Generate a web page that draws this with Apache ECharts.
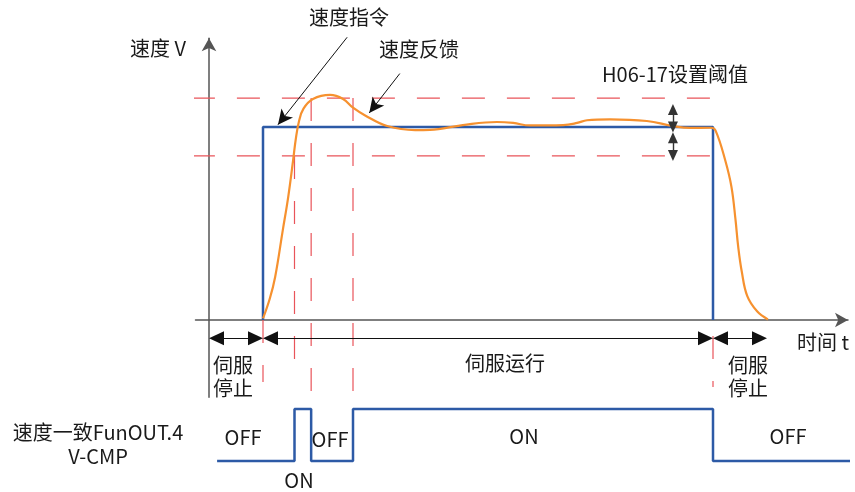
<!DOCTYPE html>
<html lang="zh-CN">
<head>
<meta charset="UTF-8">
<title>速度一致 V-CMP</title>
<script src="https://cdn.jsdelivr.net/npm/echarts@6/dist/echarts.min.js"></script>
<style>
  html, body { margin: 0; padding: 0; background: #fff; }
  #chart { width: 855px; height: 492px; }
</style>
</head>
<body>
<div id="chart"></div>
<script>
// ---- data (time in ms-like units, speed in rpm) ----
const commandOn = 12;
const commandOff = 112;
const commandSpeed = 1000;
const thresholdBand = [1150, 850];          // command +/- H06-17

const feedback = [
  [12, 8], [13.5, 110], [14.7, 223], [16.4, 466], [17.6, 637], [18.7, 829],
  [19.3, 940], [20, 1030], [21, 1095], [23.1, 1145], [26.9, 1166],
  [29.8, 1145], [32, 1100], [34.7, 1060], [39.6, 1005], [45.8, 984],
  [49.1, 985], [56.4, 1010], [64, 1026], [67.6, 1021], [71.3, 1008],
  [78.7, 1010], [81.8, 1021], [84, 1035], [89.1, 1040], [97.3, 1031],
  [103.1, 1005], [106.9, 995], [111.6, 996], [112.6, 980], [114.7, 829],
  [116.1, 690], [117, 520], [117.6, 380], [118.4, 250], [119.6, 125],
  [121.8, 45], [124.2, 3]
];

// vertical guide lines: [time, top speed, bottom speed]
const guideLines = [
  [12, 0, -321], [19, 850, -249], [22.7, 1150, -378], [32, 1150, -430], [112, 850, -347]
];

// V-CMP digital output (0 = OFF, 1 = ON), value changes at each time
const vcmp = [[1.8, 0], [19, 1], [22.7, 0], [32, 1], [112, 0], [143.6, 0]];

const phaseSpans = [[0, 12], [12, 112], [112, 124]];
const phaseLabels = ['伺服\n停止', '伺服运行', '伺服\n停止'];
const stateLabels = ['OFF', 'ON', 'OFF', 'ON', 'OFF'];

// ---- layout ----
const X_MIN = -3, X_MAX = 142, PX_T = 4.5;
const Y_MIN = -400, Y_MAX = 1460, Y_TOP_OVERLAY = 1700, PX_V = 0.193;
const GRID_LEFT = 195.5;
const GRID_W = (X_MAX - X_MIN) * PX_T;
const GRID_TOP = 320 - Y_MAX * PX_V;
const GRID_H = (Y_MAX - Y_MIN) * PX_V;
const FONT = '"Noto Sans CJK SC", "Noto Sans", sans-serif';
const RED = '#e9545a';
const BLUE = '#2d5aa6';
const ORANGE = '#f6912f';

// pull an end point back by d pixels so a centred arrow head ends on the point
function pull(p0, p1, d) {
  const dx = (p1[0] - p0[0]) * PX_T, dy = (p1[1] - p0[1]) * PX_V;
  const f = d / Math.sqrt(dx * dx + dy * dy);
  return [p1[0] - (p1[0] - p0[0]) * f, p1[1] - (p1[1] - p0[1]) * f];
}

function arrow(p0, p1, opt) {
  const half = opt.size[1] / 2;
  const a = opt.both ? pull(p1, p0, half) : p0;
  const b = pull(p0, p1, half);
  return [
    { coord: a, symbol: opt.both ? opt.symbol : 'none', symbolSize: opt.size,
      lineStyle: { color: opt.color, width: opt.width, type: 'solid' } },
    { coord: b, symbol: opt.symbol, symbolSize: opt.size }
  ];
}

const dimArrows = phaseSpans.map(s =>
  arrow([s[0], -88], [s[1], -88], { both: true, symbol: 'triangle', size: [14, 15], color: '#111', width: 1.2 }));
const bandArrows = [
  arrow([103.1, thresholdBand[0]], [103.1, commandSpeed], { both: true, symbol: 'triangle', size: [10, 11], color: '#333', width: 1.4 }),
  arrow([103.1, commandSpeed], [103.1, thresholdBand[1]], { both: true, symbol: 'triangle', size: [10, 11], color: '#333', width: 1.4 })
];
const pointers = [
  arrow([30.7, 1503], [14.3, 1010], { both: false, symbol: 'arrow', size: [11, 15], color: '#111', width: 1 }),
  arrow([42.4, 1311], [34.6, 1072], { both: false, symbol: 'arrow', size: [11, 15], color: '#111', width: 1 })
];

const dashed = { color: RED, width: 1.2, type: [23, 22] };
const series = [];

thresholdBand.forEach(v => series.push({
  type: 'line', data: [[-3.8, v], [114, v]], symbol: 'none', silent: true,
  clip: false, lineStyle: dashed, z: 1
}));
guideLines.forEach(g => series.push({
  type: 'line', data: [[g[0], g[1]], [g[0], g[2]]], symbol: 'none', silent: true,
  clip: false, lineStyle: dashed, z: 1
}));
series.push({
  name: '速度指令', type: 'line', symbol: 'none', clip: false, z: 3,
  data: [[commandOn, 0], [commandOn, commandSpeed], [commandOff, commandSpeed], [commandOff, 0]],
  lineStyle: { color: BLUE, width: 2.5 }
});
series.push({
  name: '速度反馈', type: 'line', symbol: 'none', clip: false, z: 4,
  smooth: 0.4, data: feedback,
  lineStyle: { color: ORANGE, width: 2.2 }
});
// annotation arrows live on an overlay grid that shares the same scales but reaches higher
series.push({
  type: 'line', xAxisIndex: 2, yAxisIndex: 2, data: [], symbol: 'none', silent: true, clip: false, z: 5,
  markLine: {
    silent: true, animation: false, label: { show: false },
    symbol: ['none', 'none'],
    data: dimArrows.concat(bandArrows, pointers)
  }
});
series.push({
  name: 'V-CMP', type: 'line', xAxisIndex: 1, yAxisIndex: 1, step: 'end',
  symbol: 'none', clip: false, data: vcmp,
  lineStyle: { color: BLUE, width: 2.5 }
});

// ---- text ----
function txt(text, x, y, extra) {
  return {
    type: 'text', silent: true, z: 10,
    style: Object.assign({
      text: text, x: x, y: y, fill: '#1a1a1a', font: '20px ' + FONT,
      align: 'center', verticalAlign: 'middle', textAlign: 'center',
      textVerticalAlign: 'middle', lineHeight: 23
    }, extra || {})
  };
}

const graphics = [
  txt('速度 V', 158, 48),
  txt('速度指令', 349, 17),
  txt('速度反馈', 419, 49),
  txt('H06-17设置阈值', 675, 74),
  txt('时间 t', 823, 342),
  txt(phaseLabels[0], 233, 377),
  txt(phaseLabels[1], 505, 363),
  txt(phaseLabels[2], 748, 377),
  txt(stateLabels[0], 243, 437),
  txt(stateLabels[1], 299, 480),
  txt(stateLabels[2], 330, 439),
  txt(stateLabels[3], 524, 436),
  txt(stateLabels[4], 788, 436),
  txt('速度一致FunOUT.4\nV-CMP', 98, 444, { lineHeight: 24 })
];

const hiddenAxis = {
  axisLine: { show: false }, axisTick: { show: false },
  axisLabel: { show: false }, splitLine: { show: false }
};
const visibleLine = {
  show: true, onZero: true, symbol: ['none', 'arrow'], symbolSize: [11, 13],
  lineStyle: { color: '#555', width: 1.5 }
};

const chart = echarts.init(document.getElementById('chart'), null, { renderer: 'canvas' });
chart.setOption({
  animation: false,
  backgroundColor: '#fff',
  grid: [
    { left: GRID_LEFT, top: GRID_TOP, width: GRID_W, height: GRID_H },
    { left: GRID_LEFT, top: 409, width: GRID_W, height: 52 },
    { left: GRID_LEFT, top: 320 - Y_TOP_OVERLAY * PX_V, width: GRID_W,
      height: (Y_TOP_OVERLAY - Y_MIN) * PX_V }
  ],
  xAxis: [
    { type: 'value', gridIndex: 0, min: X_MIN, max: X_MAX, axisLine: visibleLine,
      axisTick: { show: false }, axisLabel: { show: false }, splitLine: { show: false } },
    Object.assign({ type: 'value', gridIndex: 1, min: X_MIN, max: X_MAX }, hiddenAxis),
    Object.assign({ type: 'value', gridIndex: 2, min: X_MIN, max: X_MAX }, hiddenAxis)
  ],
  yAxis: [
    { type: 'value', gridIndex: 0, min: Y_MIN, max: Y_MAX, axisLine: visibleLine,
      axisTick: { show: false }, axisLabel: { show: false }, splitLine: { show: false } },
    Object.assign({ type: 'value', gridIndex: 1, min: 0, max: 1 }, hiddenAxis),
    Object.assign({ type: 'value', gridIndex: 2, min: Y_MIN, max: Y_TOP_OVERLAY }, hiddenAxis)
  ],
  series: series,
  graphic: graphics
});
</script>
</body>
</html>
